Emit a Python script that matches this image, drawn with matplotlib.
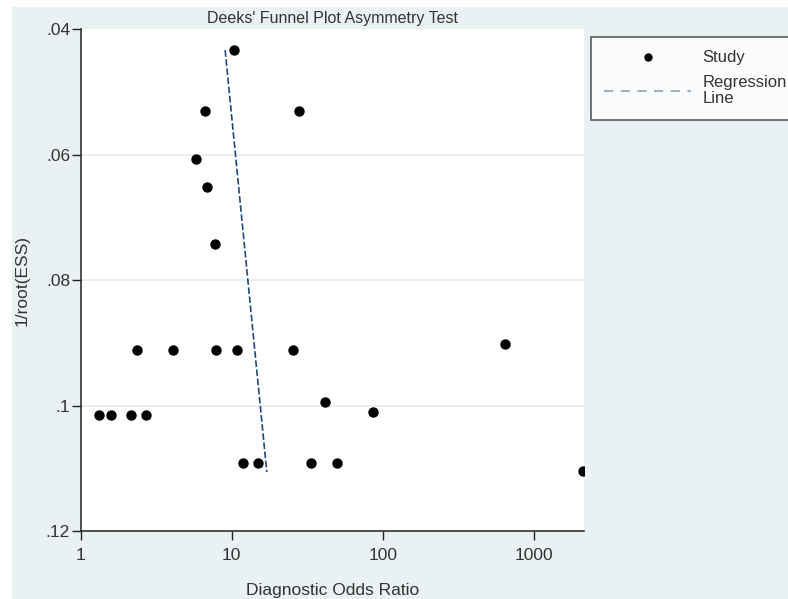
import numpy as np
import matplotlib
matplotlib.use("Agg")
import matplotlib.pyplot as plt
from matplotlib.lines import Line2D
from matplotlib.patches import Rectangle
from matplotlib.ticker import FixedLocator, FixedFormatter, NullLocator

plt.rcParams['font.family'] = ['Liberation Sans', 'DejaVu Sans']

# study points: diagnostic odds ratio vs 1/root(ESS)
dor = [10.3, 6.68, 28.1, 5.82, 6.88, 7.78,
       2.36, 4.10, 7.9, 10.8, 25.4, 641,
       41.2, 86.9,
       1.32, 1.585, 2.15, 2.71,
       11.97, 14.9, 33.6, 49.7, 2118]
inv_root_ess = [0.0432, 0.0530, 0.0530, 0.0606, 0.0652, 0.0742,
                0.0911, 0.0911, 0.0911, 0.0911, 0.0911, 0.0902,
                0.0994, 0.1010,
                0.1015, 0.1015, 0.1015, 0.1015,
                0.1091, 0.1091, 0.1091, 0.1091, 0.1105]

# regression line ends
reg_x = [9.06, 17.1]
reg_y = [0.0433, 0.1106]

y_ticks = [0.04, 0.06, 0.08, 0.10, 0.12]
y_labels = ['.04', '.06', '.08', '.1', '.12']
x_ticks = [1, 10, 100, 1000]
x_labels = ['1', '10', '100', '1000']

fig = plt.figure(figsize=(7.88, 5.99), dpi=100)
fig.patch.set_facecolor('white')
# stata style outer panel
fig.patches.append(Rectangle((12 / 788, 0), 1, 1 - 7 / 599, transform=fig.transFigure,
                             facecolor='#EAF1F3', edgecolor='none', zorder=-10))

ax = fig.add_axes([0.1022, 0.1135, 0.6389, 0.8373])
ax.set_facecolor('white')
ax.set_xscale('log')
ax.set_xlim(1, 2150)
ax.set_ylim(0.12, 0.04)

for yv in [0.06, 0.08, 0.10]:
    ax.axhline(yv, color='#E2EDF0', lw=1.2, zorder=0)

ax.scatter(dor, inv_root_ess, s=42, color='black', zorder=3)
ax.plot(reg_x, reg_y, color='#1F4A7A', lw=1.2, ls=(0, (4, 1.5)), zorder=2)

ax.xaxis.set_major_locator(FixedLocator(x_ticks))
ax.xaxis.set_major_formatter(FixedFormatter(x_labels))
ax.xaxis.set_minor_locator(NullLocator())
ax.yaxis.set_major_locator(FixedLocator(y_ticks))
ax.yaxis.set_major_formatter(FixedFormatter(y_labels))

for s in ['top', 'right']:
    ax.spines[s].set_visible(False)
for s in ['left', 'bottom']:
    ax.spines[s].set_color('#222222')
    ax.spines[s].set_linewidth(1.1)
ax.tick_params(length=6.5, width=1, color='#222222', labelsize=12.5, labelcolor='#333333')
ax.tick_params(axis='x', pad=6)
ax.tick_params(axis='y', pad=1)

ax.set_title("Deeks' Funnel Plot Asymmetry Test", fontsize=11.5, color='#333333', pad=5)
ax.set_xlabel('Diagnostic Odds Ratio', fontsize=12.5, color='#333333', labelpad=14)
ax.set_ylabel('1/root(ESS)', fontsize=12.5, color='#333333', labelpad=12)

handles = [Line2D([], [], marker='o', ls='none', color='black', markersize=5),
           Line2D([], [], color='#8AA3BA', lw=1.2, ls=(0, (5.5, 4.5)))]
leg = fig.legend(handles, ['Study', 'Regression\nLine'], loc='upper left',
                 bbox_to_anchor=(591 / 788, 1 - 37 / 599, 0.4, 0.0),
                 fontsize=12, handlelength=5.2, handletextpad=0.7,
                 borderpad=0.8, labelspacing=0.6, frameon=True, fancybox=False,
                 borderaxespad=0, mode='expand')
leg.get_frame().set_edgecolor('#333333')
leg.get_frame().set_linewidth(1.2)
leg.get_frame().set_facecolor('white')
for t in leg.get_texts():
    t.set_color('#333333')
    t.set_linespacing(1.08)

fig.savefig('out.png', dpi=100)
